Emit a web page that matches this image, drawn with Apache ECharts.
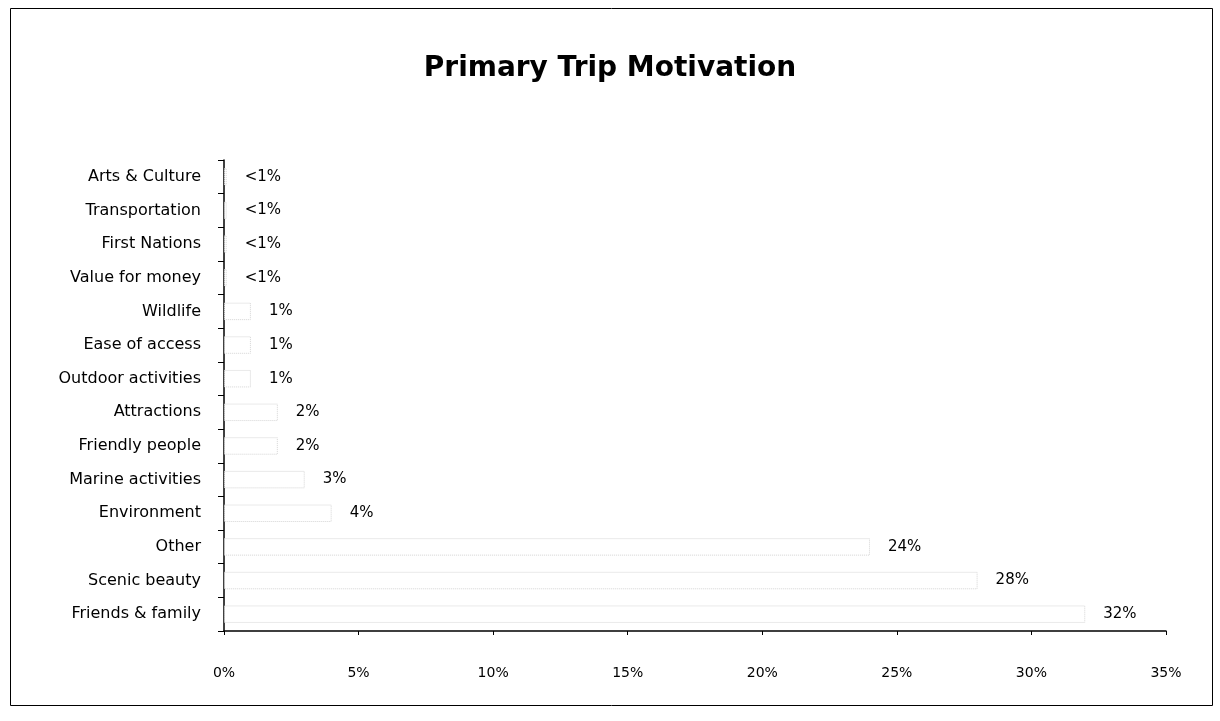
<!DOCTYPE html>
<html>
<head>
<meta charset="utf-8">
<title>Primary Trip Motivation</title>
<script src="https://cdn.jsdelivr.net/npm/echarts@6/dist/echarts.min.js"></script>
<style>
  html, body { margin: 0; padding: 0; background: #ffffff; }
  #chart { width: 1220px; height: 721px; }
</style>
</head>
<body>
<div id="chart"></div>
<script>
// Motivations, listed top to bottom
const categories = [
  'Arts & Culture', 'Transportation', 'First Nations', 'Value for money',
  'Wildlife', 'Ease of access', 'Outdoor activities', 'Attractions',
  'Friendly people', 'Marine activities', 'Environment', 'Other',
  'Scenic beauty', 'Friends & family'
];
// Share of respondents (%); "<1%" rows are drawn as a sliver
const shares = [0.1, 0.1, 0.1, 0.1, 1, 1, 1, 2, 2, 3, 4, 24, 28, 32];
const shareLabels = ['<1%', '<1%', '<1%', '<1%', '1%', '1%', '1%', '2%', '2%', '3%', '4%', '24%', '28%', '32%'];
// Horizontal axis ticks (%)
const tickValues = [0, 5, 10, 15, 20, 25, 30, 35];

const FONT = '"DejaVu Sans", "Open Sans", sans-serif';

const chart = echarts.init(document.getElementById('chart'), null, { renderer: 'canvas' });
chart.setOption({
  backgroundColor: '#ffffff',
  animation: false,
  title: {
    text: 'Primary Trip Motivation',
    left: 'center',
    top: 50,
    textStyle: { fontFamily: FONT, fontSize: 28, fontWeight: 'bold', color: '#000000' }
  },
  graphic: [{
    type: 'rect',
    shape: { x: 10.5, y: 8.5, width: 1202, height: 697 },
    style: { fill: 'none', stroke: '#000000', lineWidth: 1 },
    silent: true
  }],
  grid: { left: 224, right: 54, top: 160, bottom: 90, containLabel: false },
  xAxis: {
    type: 'value',
    min: tickValues[0],
    max: tickValues[tickValues.length - 1],
    interval: 5,
    axisLine: { show: true, lineStyle: { color: '#000000', width: 1.5 } },
    axisTick: { show: true, length: 4, lineStyle: { color: '#000000' } },
    splitLine: { show: false },
    axisLabel: {
      margin: 35,
      fontFamily: FONT,
      fontSize: 14,
      color: '#000000',
      formatter: v => v + '%'
    }
  },
  yAxis: {
    type: 'category',
    data: categories,
    inverse: true,
    axisLine: { show: true, lineStyle: { color: '#000000', width: 1.5 } },
    axisTick: { show: true, length: 6, alignWithLabel: false, lineStyle: { color: '#000000' } },
    axisLabel: {
      margin: 23,
      fontFamily: FONT,
      fontSize: 16,
      color: '#000000'
    }
  },
  series: [{
    type: 'bar',
    data: shares,
    barWidth: '52%',
    itemStyle: {
      color: '#ffffff',
      borderColor: '#d4d4d4',
      borderWidth: 1,
      borderType: 'dotted'
    },
    label: {
      show: true,
      position: 'right',
      distance: 18,
      fontFamily: FONT,
      fontSize: 15,
      color: '#000000',
      formatter: p => shareLabels[p.dataIndex]
    }
  }]
});
</script>
</body>
</html>
